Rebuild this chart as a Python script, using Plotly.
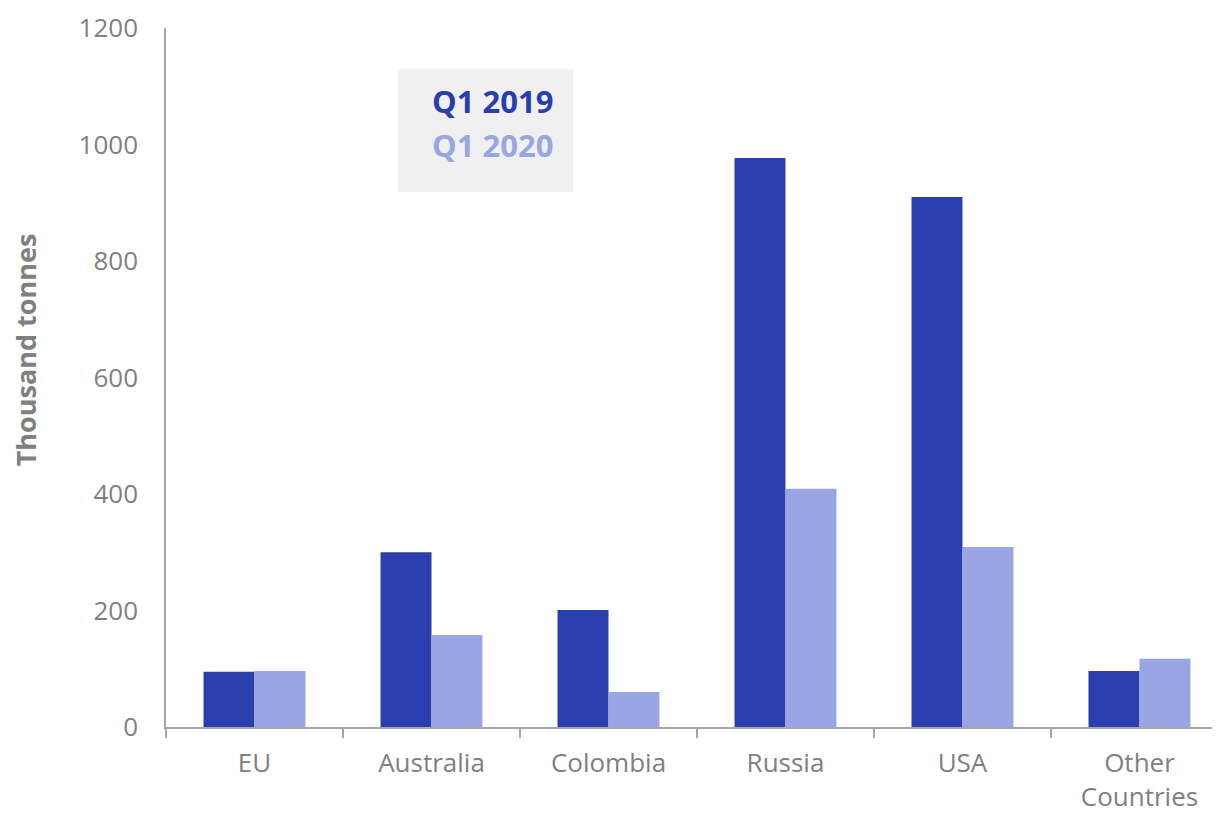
import plotly.graph_objects as go

categories = ["EU", "Australia", "Colombia", "Russia", "USA", "Other<br>Countries"]
series_names = ["Q1 2019", "Q1 2020"]
q1_2019 = [95, 300, 201, 977, 910, 96]
q1_2020 = [96, 158, 60, 409, 309, 117]
y_ticks = [0, 200, 400, 600, 800, 1000, 1200]

dark = "#2B3EAE"
light = "#9AA6E4"
grey = "#808080"
font = "Open Sans"

fig = go.Figure()
fig.add_trace(go.Bar(x=categories, y=q1_2019, name=series_names[0], marker_color=dark,
                     marker_line_width=0))
fig.add_trace(go.Bar(x=categories, y=q1_2020, name=series_names[1], marker_color=light,
                     marker_line_width=0))

fig.update_layout(
    width=1220, height=814,
    margin=dict(l=158, r=8, t=20, b=95, autoexpand=False),
    paper_bgcolor="white", plot_bgcolor="white",
    barmode="group", bargap=0.424, bargroupgap=0,
    showlegend=False,
    font=dict(family=font, color=grey, size=26),
)
fig.update_xaxes(
    automargin=False,
    range=[-0.5, 5.455], showgrid=False, showline=True, linecolor="#A6A6A6", linewidth=1.5,
    ticks="outside", tickson="boundaries", ticklen=9, tickcolor="#A6A6A6", tickwidth=1.5,
    tickfont=dict(size=26, color=grey, family=font), ticklabelstandoff=12,
)
fig.update_yaxes(
    automargin=False,
    range=[0, 1200], tickvals=y_ticks, showgrid=False, zeroline=False,
    showline=True, linecolor="#A6A6A6", linewidth=1.5, ticks="",
    tickfont=dict(size=26, color=grey, family=font), ticklabelstandoff=21,
)

fig.add_annotation(text="<b>Thousand tonnes</b>", xref="paper", yref="paper",
                   x=-0.133, y=0.54, textangle=-90, showarrow=False,
                   font=dict(size=27, color=grey, family=font), xanchor="center", yanchor="middle")

# legend box
fig.add_shape(type="rect", xref="paper", yref="paper",
              x0=(398 - 166) / 1054, x1=(573 - 166) / 1054,
              y0=(727 - 192) / 699, y1=(727 - 69) / 699,
              fillcolor="#F0F0F0", line_width=0, layer="below")
for name, col, yp in [(series_names[0], dark, 101), (series_names[1], light, 145)]:
    fig.add_annotation(text=f"<b>{name}</b>", xref="paper", yref="paper",
                       x=(555 - 166) / 1054, y=(727 - yp) / 699, showarrow=False,
                       xanchor="right", yanchor="middle",
                       font=dict(size=31, color=col, family=font))

fig.write_html("out.html")
